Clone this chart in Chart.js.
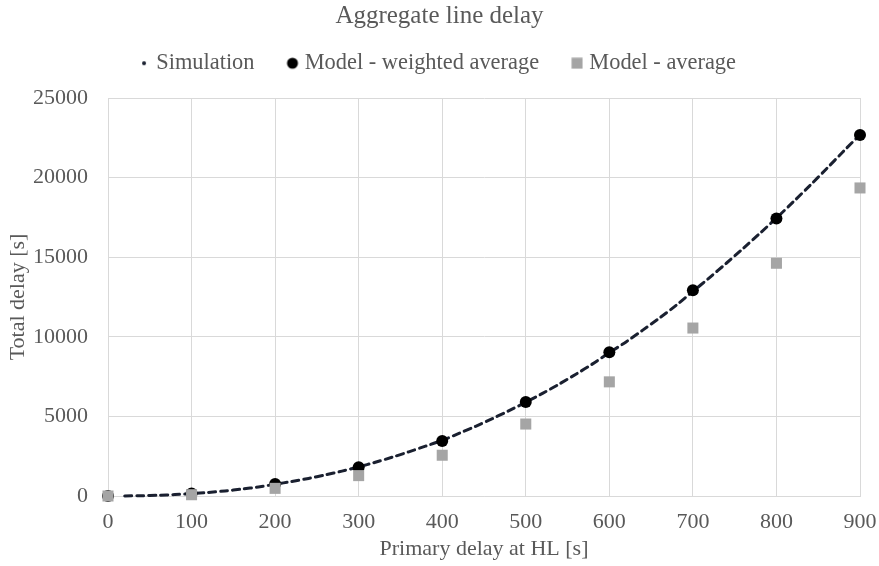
<!DOCTYPE html>
<html>
<head>
<meta charset="utf-8">
<title>Aggregate line delay</title>
<script src="https://cdn.jsdelivr.net/npm/chart.js@4/dist/chart.umd.min.js"></script>
<style>
  html, body { margin: 0; padding: 0; background: #fff; }
  #wrap { width: 879px; height: 566px; }
</style>
</head>
<body>
<div id="wrap"><canvas id="delayChart" width="879" height="566"></canvas></div>
<script>
// simulation run: total delay vs primary delay
const simX = [20, 40, 60, 80, 100, 120, 140, 160, 180, 200,
  220, 240, 260, 280, 300, 320, 340, 360, 380, 400,
  420, 440, 460, 480, 500, 520, 540, 560, 580, 600,
  620, 640, 660, 680, 700, 720, 740, 760, 780, 800,
  820, 840, 860, 880, 900];
const simY = [4, 18, 46, 89, 148, 224, 319, 433, 568, 740,
  910, 1105, 1325, 1565, 1830, 2120, 2435, 2775, 3130, 3500,
  3930, 4380, 4860, 5360, 5890, 6445, 7030, 7650, 8300, 9000,
  9680, 10420, 11180, 11980, 12850, 13720, 14620, 15540, 16490, 17460,
  18470, 19500, 20560, 21640, 22700];

// model estimates every 100 s
const modelX = [0, 100, 200, 300, 400, 500, 600, 700, 800, 900];
const weightedY = [0, 150, 750, 1800, 3450, 5900, 9030, 12920, 17430, 22680];
const averageY = [0, 80, 480, 1280, 2560, 4520, 7170, 10550, 14620, 19350];

const xTicks = [0, 100, 200, 300, 400, 500, 600, 700, 800, 900];
const yTicks = [0, 5000, 10000, 15000, 20000, 25000];

const serif = '"Liberation Serif", "Times New Roman", serif';
const textGrey = '#595959';
const gridGrey = '#d9d9d9';

const toPoints = (xs, ys) => xs.map((x, i) => ({ x: x, y: ys[i] }));

// small canvases used as legend markers
function marker(size, draw) {
  const c = document.createElement('canvas');
  c.width = size;
  c.height = size;
  draw(c.getContext('2d'), size);
  return c;
}
const simMarker = marker(6, (ctx, s) => {
  ctx.fillStyle = '#1a2030';
  ctx.beginPath();
  ctx.arc(s / 2, s / 2, 2, 0, Math.PI * 2);
  ctx.fill();
});
const weightedMarker = marker(14, (ctx, s) => {
  ctx.fillStyle = '#000';
  ctx.beginPath();
  ctx.arc(s / 2, s / 2, 5.5, 0, Math.PI * 2);
  ctx.fill();
});
const averageMarker = marker(12, (ctx, s) => {
  ctx.fillStyle = '#a5a5a5';
  ctx.fillRect(0.5, 0.5, 11, 11);
});
const legendMarkers = [simMarker, weightedMarker, averageMarker];

// legend row sits lower than chart.js would put it
const legendHeight = 83;
const legendFit = {
  id: 'legendFit',
  afterInit(chart) {
    const legend = chart.legend;
    const fit = legend.fit;
    legend.fit = function () {
      fit.call(this);
      this.height = legendHeight;
    };
  }
};

const chart = new Chart(document.getElementById('delayChart'), {
  type: 'scatter',
  data: {
    datasets: [{
      label: 'Simulation',
      data: toPoints(simX, simY),
      showLine: true,
      borderColor: '#1a2030',
      borderWidth: 3,
      borderDash: [7, 5],
      borderCapStyle: 'round',
      tension: 0.3,
      pointRadius: 0,
      clip: false,
      order: 3
    }, {
      label: 'Model - weighted average',
      data: toPoints(modelX, weightedY),
      pointStyle: 'circle',
      pointRadius: 6,
      backgroundColor: '#000',
      borderWidth: 0,
      clip: false,
      order: 2
    }, {
      label: 'Model - average',
      data: toPoints(modelX, averageY),
      pointStyle: 'rect',
      pointRadius: 7.8,
      backgroundColor: '#a5a5a5',
      borderWidth: 0,
      clip: false,
      order: 1
    }]
  },
  options: {
    responsive: false,
    animation: false,
    events: [],
    layout: { padding: { left: 19, right: 19, top: 0, bottom: 0 } },
    plugins: {
      title: {
        display: true,
        text: 'Aggregate line delay',
        color: textGrey,
        font: { family: serif, size: 25, weight: 'normal' },
        padding: { top: 1, bottom: -16 }
      },
      legend: {
        display: true,
        position: 'top',
        labels: {
          color: textGrey,
          font: { family: serif, size: 22.4 },
          usePointStyle: true,
          pointStyleWidth: 2,
          padding: 37,
          sort: (a, b) => a.datasetIndex - b.datasetIndex,
          generateLabels(chart) {
            const items = Chart.defaults.plugins.legend.labels.generateLabels(chart);
            items.forEach(item => { item.pointStyle = legendMarkers[item.datasetIndex]; });
            return items;
          }
        }
      },
      tooltip: { enabled: false }
    },
    scales: {
      x: {
        type: 'linear',
        min: 0,
        max: 900,
        afterBuildTicks(scale) { scale.ticks = xTicks.map(v => ({ value: v })); },
        afterFit(scale) {
          scale.height = 70;
          // the end labels fit inside the layout padding
          scale.paddingLeft = 0;
          scale.paddingRight = 0;
        },
        grid: { color: gridGrey, lineWidth: 1, drawTicks: false },
        border: { color: gridGrey, width: 1 },
        ticks: {
          color: textGrey,
          font: { family: serif, size: 22 },
          padding: 13,
          maxRotation: 0
        },
        title: {
          display: true,
          text: 'Primary delay at HL [s]',
          color: textGrey,
          font: { family: serif, size: 22 },
          padding: { top: 0, bottom: 4 }
        }
      },
      y: {
        type: 'linear',
        min: 0,
        max: 25000,
        afterBuildTicks(scale) { scale.ticks = yTicks.map(v => ({ value: v })); },
        afterFit(scale) { scale.width = 89; },
        grid: { color: gridGrey, lineWidth: 1, drawTicks: false },
        border: { color: gridGrey, width: 1 },
        ticks: {
          color: textGrey,
          font: { family: serif, size: 22 },
          padding: 20,
          callback: v => String(v)
        },
        title: {
          display: true,
          text: 'Total delay [s]',
          color: textGrey,
          font: { family: serif, size: 22 },
          padding: { top: -14, bottom: 0 }
        }
      }
    }
  },
  plugins: [legendFit]
});
</script>
</body>
</html>
